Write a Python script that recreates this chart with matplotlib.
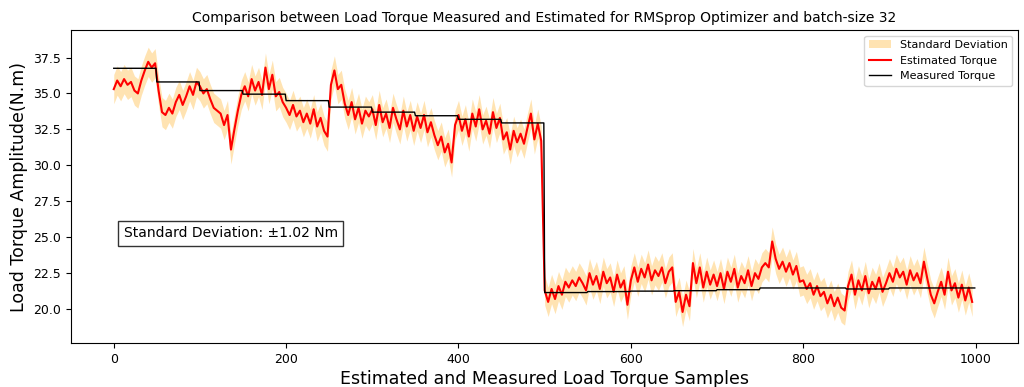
import matplotlib
matplotlib.use('Agg')
import matplotlib.pyplot as plt
import numpy as np

# measured load torque, one level per block of 50 samples
block_len = 50
measured_levels = [36.75, 35.8, 35.2, 34.95, 34.5, 34.05, 33.7, 33.45, 33.2, 32.95,
                   21.15, 21.22, 21.25, 21.28, 21.35, 21.47, 21.47, 21.4, 21.47, 21.47]

# estimated torque, every 4th sample
est_step = 4
estimated = [
    35.3, 35.9, 35.5, 36.0, 35.6, 35.8, 35.2, 35.0, 35.9, 36.6, 37.2, 36.8, 37.1,
    35.2, 33.7, 33.5, 34.0, 33.6, 34.4, 34.9, 34.2, 34.8, 35.5, 34.9, 35.8,
    35.5, 35.0, 35.3, 34.6, 34.0, 33.8, 33.6, 32.8, 33.5, 31.1, 32.5, 33.8, 34.9,
    35.5, 34.8, 36.0, 35.2, 35.8, 34.9, 36.8, 35.3, 36.3, 34.8, 35.1, 34.4,
    34.0, 33.5, 34.2, 33.4, 33.8, 33.0, 33.6, 32.9, 33.9, 32.7, 33.3, 32.4, 32.0,
    35.6, 36.6, 35.3, 35.6, 34.3, 33.5, 34.4, 33.2, 34.0, 32.9, 33.8, 33.4,
    33.9, 32.8, 34.2, 33.0, 33.6, 32.6, 34.0, 33.2, 32.5, 33.8, 32.7, 33.5, 32.4,
    33.4, 32.6, 33.5, 32.3, 33.0, 32.1, 31.4, 32.0, 30.9, 31.5, 30.2, 32.8,
    33.5, 32.4, 33.2, 32.0, 33.6, 32.7, 33.9, 32.5, 33.1, 32.2, 33.7, 32.6, 33.3,
    31.8, 32.3, 31.1, 32.4, 31.6, 32.2, 31.5, 32.6, 33.6, 31.8, 32.9, 31.7,
    21.3, 20.5, 21.4, 20.7, 21.6, 21.0, 21.9, 21.5, 22.0, 21.6, 22.2, 21.8, 21.3,
    22.5, 21.7, 22.3, 21.4, 22.6, 21.8, 22.2, 21.2, 22.4, 21.5, 22.0, 20.3,
    22.0, 22.9, 21.9, 22.8, 22.2, 23.1, 22.0, 22.7, 22.3, 22.9, 21.8, 22.6, 22.9,
    20.5, 21.2, 19.8, 21.0, 20.2, 23.2, 21.8, 22.9, 21.5, 22.6, 21.7, 22.4,
    21.6, 22.5, 21.4, 22.6, 21.9, 22.8, 21.5, 22.3, 21.8, 22.7, 21.6, 22.5, 22.1,
    22.9, 23.2, 22.9, 24.7, 23.5, 22.8, 23.3, 22.6, 23.2, 22.4, 23.0, 21.9,
    22.0, 21.4, 21.8, 21.0, 21.6, 20.9, 21.2, 20.4, 21.0, 20.2, 20.8, 20.1, 19.9,
    21.6, 22.4, 21.0, 22.0, 21.3, 22.3, 21.1, 21.9, 21.4, 22.2, 21.2, 21.8,
    22.5, 21.9, 22.8, 22.2, 22.6, 21.7, 22.7, 22.0, 22.5, 21.8, 23.3, 22.1, 21.0,
    20.4, 21.2, 21.9, 21.0, 22.6, 21.3, 21.8, 20.8, 21.7, 20.6, 21.5, 20.5,
]
std_dev = 1.02

measured = np.repeat(measured_levels, block_len)
x_meas = np.arange(len(measured))
est = np.array(estimated)
x_est = np.arange(len(est)) * est_step

fig, ax = plt.subplots(figsize=(10.24, 3.87), dpi=100)
fig.subplots_adjust(left=0.069, right=0.994, top=0.922, bottom=0.114)

ax.fill_between(x_est, est - std_dev, est + std_dev, color='orange', alpha=0.3,
                linewidth=0, label='Standard Deviation')
ax.plot(x_est, est, color='red', linewidth=1.5, label='Estimated Torque')
ax.plot(x_meas, measured, color='black', linewidth=1, label='Measured Torque')

ax.set_xlim(-50, 1049)
ax.set_ylim(17.65, 39.4)
ax.set_yticks(np.arange(20.0, 38.0, 2.5))
ax.tick_params(labelsize=9)
ax.set_title('Comparison between Load Torque Measured and Estimated for RMSprop Optimizer and batch-size 32',
             fontsize=10)
ax.set_xlabel('Estimated and Measured Load Torque Samples', fontsize=12.5, labelpad=3)
ax.set_ylabel('Load Torque Amplitude(N.m)', fontsize=12.5)
ax.legend(loc='upper right', fontsize=8)

ax.text(0.056, 0.35, 'Standard Deviation: \u00b1%.2f Nm' % std_dev, transform=ax.transAxes,
        fontsize=10, va='center', bbox=dict(facecolor='white', edgecolor='black', alpha=0.8))

fig.savefig('out.png')
